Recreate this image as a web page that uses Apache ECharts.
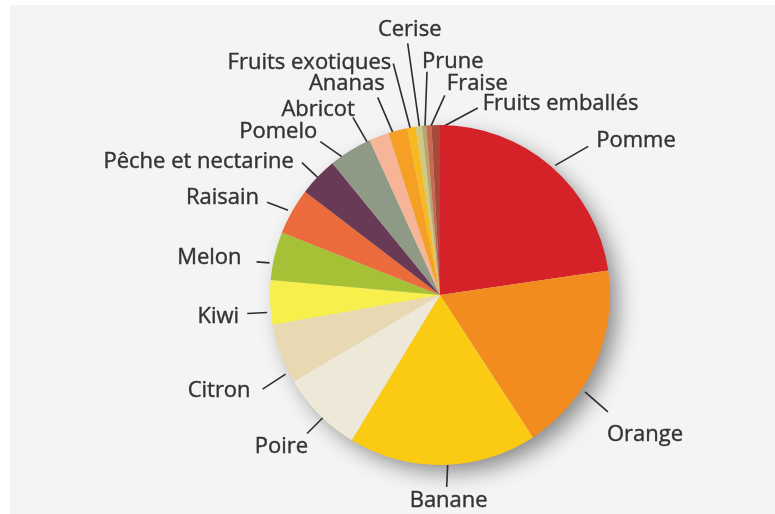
<!DOCTYPE html>
<html>
<head>
<meta charset="utf-8">
<title>Consommation de fruits</title>
<script src="https://cdn.jsdelivr.net/npm/echarts@6/dist/echarts.min.js"></script>
<style>
  html, body { margin: 0; padding: 0; background: #ffffff; }
  #chart { position: absolute; left: 10px; top: 5px; width: 765px; height: 509px; background: #f4f4f4; }
</style>
</head>
<body>
<div id="chart"></div>
<script>
// Fruit categories, clockwise from twelve o'clock
const fruits = [
  'Pomme', 'Orange', 'Banane', 'Poire', 'Citron', 'Kiwi', 'Melon', 'Raisain',
  'Pêche et nectarine', 'Pomelo', 'Abricot', 'Ananas', 'Fruits exotiques',
  'Cerise', 'Prune', 'Fraise', 'Fruits emballés'
];

// Share of each fruit (%)
const shares = [
  22.7, 18.1, 17.9, 7.8, 5.7, 4.2, 4.6, 4.4,
  3.7, 4.1, 1.9, 1.8, 0.8,
  0.6, 0.4, 0.5, 0.8
];

// Slice fills
const sliceColors = [
  '#d52128', '#f38c1f', '#fbcb14', '#ede8d8', '#e9d9b2', '#f8ef4c', '#a6c136', '#ec6b3d',
  '#693a55', '#8e9a86', '#f5b596', '#f59f24', '#f8b81f',
  '#cfca7e', '#b9a474', '#c6694d', '#a9493b'
];

// Leader-line routing per label, relative to the slice's outer anchor point:
// [startDx, startDy, endDx, endDy, textDx, textDy, align, verticalAlign]
const labelGuides = [
  [4, -1, 37, -20, 8, -6, 'left', 'middle'],      // Pomme
  [-10, 27, 13, 47, -1, 23, 'left', 'middle'],    // Orange
  [5, 0, 4, 22, 2, 3, 'center', 'top'],           // Banane
  [4, 3, -12, 19, 1, 13, 'right', 'middle'],      // Poire
  [5, 20, -18, 35, -12, 2, 'right', 'middle'],    // Citron
  [-3, 10, -23, 11, -8, 3, 'right', 'middle'],    // Kiwi
  [-5, 7, -18, 6, -15, -4, 'right', 'middle'],    // Melon
  [-4, -1, -25, -9, -8, -5, 'right', 'middle'],   // Raisain
  [0, 1, -16, -14, -8, -1, 'right', 'middle'],    // Pêche et nectarine
  [-7, 7, -30, -9, -3, -10, 'right', 'middle'],   // Pomelo
  [-11, 7, -26, -19, 2, -8, 'right', 'middle'],   // Abricot
  [-5, 2, -20, -33, 7, -14, 'right', 'middle'],   // Ananas
  [-1, 1, -18, -64, -2, -1, 'right', 'middle'],   // Fruits exotiques
  [1, 2, -11, -83, 2, -3, 'center', 'bottom'],    // Cerise
  [1, 1, 3, -54, -5, -10, 'left', 'middle'],      // Prune
  [2, 1, 16, -30, 2, -12, 'left', 'middle'],      // Fraise
  [1, 5, 42, -17, 5, -4, 'left', 'middle']        // Fruits emballés
];

const pieCenter = [430, 290];
const pieRadius = 170;

const chart = echarts.init(document.getElementById('chart'), null, { renderer: 'canvas' });

chart.setOption({
  backgroundColor: '#f4f4f4',
  animation: false,
  series: [
    {
      // soft drop shadow under the disc
      type: 'pie',
      silent: true,
      z: 1,
      center: pieCenter,
      radius: pieRadius - 2,
      label: { show: false },
      labelLine: { show: false },
      emphasis: { disabled: true },
      itemStyle: {
        color: '#d9d9d9',
        shadowColor: 'rgba(0,0,0,0.45)',
        shadowBlur: 22,
        shadowOffsetX: 9,
        shadowOffsetY: 9
      },
      data: [{ value: 1 }]
    },
    {
      type: 'pie',
      z: 2,
      center: pieCenter,
      radius: pieRadius,
      startAngle: 90,
      clockwise: true,
      avoidLabelOverlap: false,
      emphasis: { disabled: true },
      itemStyle: { borderWidth: 0 },
      label: {
        show: true,
        position: 'outside',
        color: '#333333',
        fontFamily: '"Open Sans", "DejaVu Sans", sans-serif',
        fontSize: 22,
        textBorderColor: '#333333',
        textBorderWidth: 0.4,
        formatter: '{b}'
      },
      labelLine: {
        show: true,
        length: 10,
        length2: 10,
        lineStyle: { color: '#2e2e2e', width: 1.6 }
      },
      labelLayout: function (params) {
        const g = labelGuides[params.dataIndex];
        const pts = params.labelLinePoints;
        if (!g || !pts) return {};
        const ax = pts[0][0], ay = pts[0][1];
        const sx = ax + g[0], sy = ay + g[1];
        const ex = ax + g[2], ey = ay + g[3];
        return {
          x: ex + g[4],
          y: ey + g[5],
          align: g[6],
          verticalAlign: g[7],
          labelLinePoints: [[sx, sy], [(sx + ex) / 2, (sy + ey) / 2], [ex, ey]]
        };
      },
      data: fruits.map((name, i) => ({
        name: name,
        value: shares[i],
        itemStyle: { color: sliceColors[i] }
      }))
    }
  ]
});
</script>
</body>
</html>
